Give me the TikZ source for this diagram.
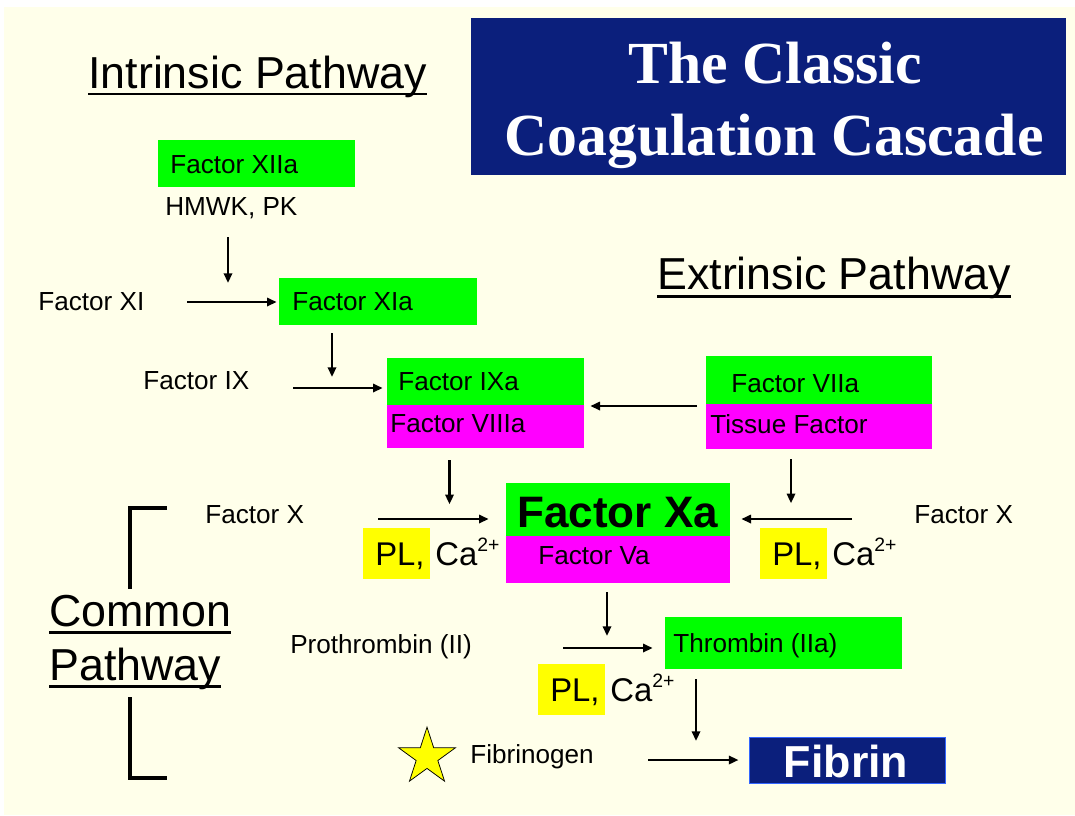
\documentclass[tikz,border=0pt]{standalone}
\usepackage{fontspec}
\setmainfont{Liberation Sans}
\newfontfamily\titlefont{Liberation Serif}
\usetikzlibrary{fit,calc,arrows.meta,shapes.geometric}
\definecolor{cream}{HTML}{FFFFEA}
\definecolor{navy}{HTML}{0B1F7C}
\definecolor{lgreen}{HTML}{00FF00}
\definecolor{mag}{HTML}{FF00FF}
\definecolor{yel}{HTML}{FFFF00}
\definecolor{fibborder}{HTML}{3366FF}
\newcommand\myfs[1]{\fontsize{#1}{#1}\selectfont}
\newcommand\casup{Ca\raisebox{0.40em}{\myfs{13}2+}}
\begin{document}
\begin{tikzpicture}[x=0.6698pt,y=-0.6698pt,
  lbl/.style={anchor=base west,inner sep=0pt,font=\myfs{17.5}},
  pl/.style={anchor=base west,inner sep=0pt,font=\myfs{22}},
  hdr/.style={anchor=base west,inner sep=0pt,font=\myfs{30}},
  box/.style={inner sep=0pt,draw=none},
  gbox/.style={box,fill=lgreen},
  mbox/.style={box,fill=mag},
  ybox/.style={box,fill=yel},
  arr/.style={line width=1.8pt,-{Triangle[length=6.5pt,width=5.5pt]}},
  uline/.style={line width=2pt},
  brk/.style={line width=2.4pt}]
\fill[white] (0,0) rectangle (1075,815);
\fill[cream] (4,7) rectangle (1075,815);
\useasboundingbox (0,0) rectangle (1075,815);

% title
\node[box,fill=navy,fit={(471,18)(1066,175)}] (titlebox) {};
\node[anchor=base,inner sep=0pt,text=white,font=\titlefont\bfseries\myfs{40}] (t1) at (775,83) {The Classic};
\node[anchor=base,inner sep=0pt,text=white,font=\titlefont\bfseries\myfs{40}] (t2) at (774,155) {Coagulation Cascade};

% headers
\node[hdr] (intr) at (88,88) {Intrinsic Pathway};
\draw[uline] ($(intr.base west)+(0,6)$) -- ($(intr.base east)+(0,6)$);
\node[hdr] (extr) at (657,289) {Extrinsic Pathway};
\draw[uline] ($(extr.base west)+(0,7)$) -- ($(extr.base east)+(0,7)$);
\node[hdr] (comm) at (49,626) {Common};
\draw[uline] ($(comm.base west)+(0,6)$) -- ($(comm.base east)+(0,6)$);
\node[hdr] (cpath) at (49,680) {Pathway};
\draw[uline] ($(cpath.base west)+(0,6)$) -- ($(cpath.base east)+(0,6)$);

% bracket
\coordinate (bt1) at (167,508); \coordinate (bt2) at (130,508); \coordinate (bt3) at (130,589);
\coordinate (bb1) at (130,697); \coordinate (bb2) at (130,778); \coordinate (bb3) at (167,778);
\draw[brk] (bt1) -- (bt2) -- (bt3);
\draw[brk] (bb1) -- (bb2) -- (bb3);

% intrinsic
\node[gbox,fit={(158,140)(355,187)}] (xiiabox) {};
\node[lbl] (xiia) at (170,173) {Factor XIIa};
\node[lbl] (hmwk) at (165,215) {HMWK, PK};
\coordinate (a1s) at (228,237);
\node[lbl] (xi) at (38,310) {Factor XI};
\node[gbox,fit={(279,278)(477,325)}] (xiabox) {};
\node[lbl] (xia) at (292,310) {Factor XIa};
\coordinate (a2s) at (187,302);
\draw[arr] (a1s) -- (228,283);
\draw[arr] (a2s) -- ($(xiabox.west |- a2s)+(-2,0)$);

\coordinate (a3s) at (332,333);
\node[lbl] (ix) at (143,389) {Factor IX};
\node[gbox,fit={(387,358)(584,405)}] (ixabox) {};
\node[lbl] (ixa) at (398,390) {Factor IXa};
\node[mbox,fit={(387,405)(584,448)}] (viiiabox) {};
\node[lbl] (viiia) at (390,432) {Factor VIIIa};
\coordinate (a4s) at (293,388);
\draw[arr] (a3s) -- (332,377);
\draw[arr] (a4s) -- ($(ixabox.west |- a4s)+(-4,0)$);

% extrinsic
\node[gbox,fit={(706,356)(932,404)}] (viiabox) {};
\node[lbl] (viia) at (731,392) {Factor VIIa};
\node[mbox,fit={(706,404)(932,449)}] (tfbox) {};
\node[lbl] (tf) at (710,433) {Tissue Factor};
\coordinate (a5s) at (697,406);
\draw[arr] (a5s) -- ($(viiiabox.east |- a5s)+(6,0)$);

% factor Xa
\node[gbox,fit={(506,483)(730,536)}] (xabox) {};
\node[anchor=base west,inner sep=0pt,font=\bfseries\myfs{29.5}] (xa) at (517,527) {Factor Xa};
\node[mbox,fit={(506,536)(730,583)}] (vabox) {};
\node[lbl] (va) at (538,564) {Factor Va};

\draw[arr] ($(viiiabox.south)+(-36,12)$) -- ($(viiiabox.south)+(-36,56)$);
\draw[arr] ($(tfbox.south)+(-28,10)$) -- ($(tfbox.south)+(-28,54)$);

\node[lbl] (xl) at (205,523) {Factor X};
\coordinate (a6s) at (378,519);
\draw[arr] (a6s) -- ($(xabox.west |- a6s)+(-17,0)$);
\node[lbl] (xr) at (914,523) {Factor X};
\coordinate (a7s) at (852,519);
\draw[arr] (a7s) -- ($(xabox.east |- a7s)+(11,0)$);

\node[ybox,fit={(363,528)(430,579)}] (pl1box) {};
\node[pl] (pl1) at (375,565) {PL,};
\node[pl] (ca1) at (435,565) {\casup};
\node[ybox,fit={(760,528)(827,579)}] (pl2box) {};
\node[pl] (pl2) at (772,565) {PL,};
\node[pl] (ca2) at (832,565) {\casup};

% common
\coordinate (a8s) at (607,592);
\draw[arr] (a8s) -- (607,636);
\node[lbl] (pro) at (290,653) {Prothrombin (II)};
\node[gbox,fit={(665,617)(902,669)}] (thrbox) {};
\node[lbl] (thr) at (673,652) {Thrombin (IIa)};
\coordinate (a9s) at (563,648);
\draw[arr] (a9s) -- ($(thrbox.west |- a9s)+(-12,0)$);
\node[ybox,fit={(538,664)(605,715)}] (pl3box) {};
\node[pl] (pl3) at (550,701) {PL,};
\node[pl] (ca3) at (610,701) {\casup};

\node[star,star points=5,star point ratio=2.62,minimum size=40pt,inner sep=0pt,fill=yel,draw=black,line width=0.5pt] (star) at (427,757) {};
\node[lbl] (fbg) at (470,763) {Fibrinogen};
\node[box,fill=navy,draw=fibborder,line width=0.6pt,fit={(749,737)(945,783)}] (fibbox) {};
\node[anchor=base,inner sep=0pt,text=white,font=\bfseries\myfs{30}] (fib) at (846,777) {Fibrin};
\coordinate (a10s) at (696,679);
\draw[arr] (a10s) -- (696,741);
\coordinate (a11s) at (648,760);
\draw[arr] (a11s) -- ($(fibbox.west |- a11s)+(-10,0)$);
\end{tikzpicture}
\end{document}
